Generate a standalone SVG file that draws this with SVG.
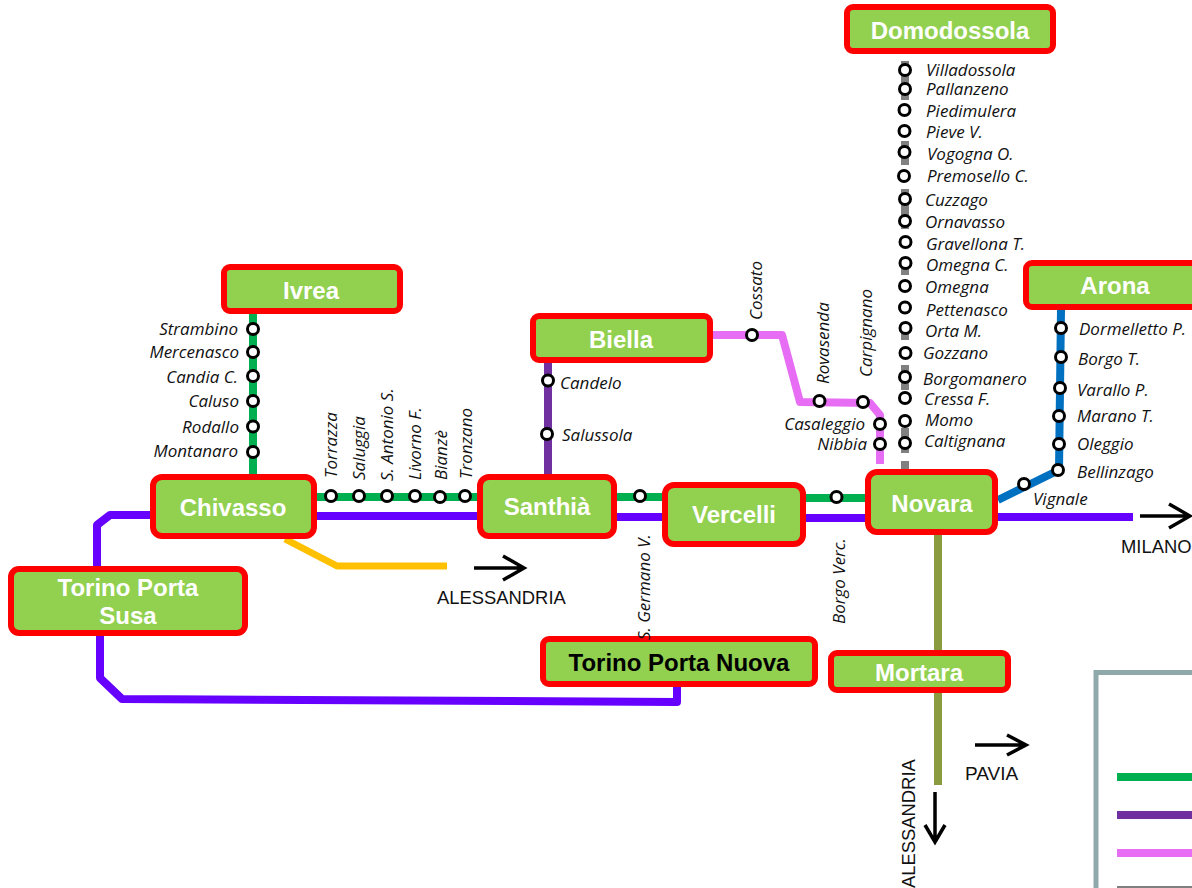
<svg xmlns="http://www.w3.org/2000/svg" width="1192" height="888" viewBox="0 0 1192 888">
<style>
.line{fill:none;stroke-linejoin:round}
.g{stroke:#00B050;stroke-width:8}
.v{stroke:#6600FF;stroke-width:8}
.y{stroke:#FFC000;stroke-width:7}
.d{stroke:#7030A0;stroke-width:8}
.p{stroke:#E86DF5;stroke-width:8}
.b{stroke:#0070C0;stroke-width:8}
.o{stroke:#8A9A3F;stroke-width:8}
.k{stroke:#808080;stroke-width:8}
.a{fill:none;stroke:#000;stroke-width:3.5;stroke-linejoin:miter}
.box{fill:#92D050;stroke:#FF0000;stroke-width:6}
.n{font:bold 24px "Liberation Sans",Arial,sans-serif;fill:#fff;text-anchor:middle}
.s{font:italic 17px "Open Sans",sans-serif;fill:#111}
.e{text-anchor:end}
.t{font:18.4px "Liberation Sans",Arial,sans-serif;fill:#111}
.c{fill:#fff;stroke:#000;stroke-width:3}
</style>
<g id="connectors">
<path class="line g" d="M253 314V474M317 497H477M617 497H662M806 498H865"/>
<path class="line v" d="M150 515H110L97 525V566M317 516H477M617 517H662M806 518H865M998 517H1133"/>
<path class="line v" d="M100 636V678L122 699L677 702V687"/>
<path class="line y" d="M285 539L337 566H447"/>
<path class="line d" d="M548 363V474"/>
<path class="line p" d="M713 335H782L800 402L870 403L880 415V464"/>
<path class="line b" d="M1061 310L1059 470L998 500"/>
<path class="line o" d="M938 535V650M938 693V785"/>
<path class="line k" d="M905 61V100M905 141V165M905 189V229M905 257V275M905 322V340M905 365V390M905 428V453M905 461V469"/>
<path class="a" d="M474 568H524M503 556L524 568L503 580"/>
<path class="a" d="M1140 516H1190M1169 504L1190 516L1169 528"/>
<path class="a" d="M975 745H1026M1007 735L1026 745L1007 755"/>
<path class="a" d="M935 792V842M925 825L935 842L945 825"/>
</g>
<g id="legend">
<path fill="none" stroke="#8FA8AA" stroke-width="5" d="M1194 672.500H1096V890"/>
<path class="line g" d="M1117 777H1192"/>
<path class="line d" d="M1117 815H1192"/>
<path class="line p" d="M1117 853H1192"/>
<path class="line k" d="M1117 890H1192"/>
</g>
<g id="stops">
<circle class="c" cx="253" cy="329" r="5.500"/><circle class="c" cx="253" cy="352" r="5.500"/><circle class="c" cx="253" cy="376" r="5.500"/><circle class="c" cx="253" cy="401" r="5.500"/><circle class="c" cx="253" cy="426.500" r="5.500"/><circle class="c" cx="253" cy="452" r="5.500"/>
<circle class="c" cx="331" cy="496" r="5.500"/><circle class="c" cx="359" cy="496" r="5.500"/><circle class="c" cx="387" cy="496" r="5.500"/><circle class="c" cx="415" cy="496" r="5.500"/><circle class="c" cx="440" cy="497" r="5.500"/><circle class="c" cx="465" cy="496" r="5.500"/>
<circle class="c" cx="640" cy="496" r="5.500"/><circle class="c" cx="836.500" cy="497" r="5.500"/>
<circle class="c" cx="548" cy="380.500" r="5.500"/><circle class="c" cx="547" cy="434" r="5.500"/>
<circle class="c" cx="752" cy="335" r="5.500"/><circle class="c" cx="819.500" cy="401" r="5.500"/><circle class="c" cx="863" cy="402" r="5.500"/><circle class="c" cx="880" cy="424" r="5.500"/><circle class="c" cx="880" cy="444" r="5.500"/>
<circle class="c" cx="905" cy="70" r="5.500"/><circle class="c" cx="905" cy="89" r="5.500"/><circle class="c" cx="904.500" cy="110" r="5.500"/><circle class="c" cx="904.500" cy="131" r="5.500"/><circle class="c" cx="904.500" cy="152" r="5.500"/><circle class="c" cx="904" cy="176" r="5.500"/><circle class="c" cx="905" cy="199" r="5.500"/><circle class="c" cx="905" cy="221" r="5.500"/><circle class="c" cx="905.500" cy="242" r="5.500"/><circle class="c" cx="905.500" cy="263" r="5.500"/><circle class="c" cx="905" cy="286" r="5.500"/><circle class="c" cx="905" cy="307.500" r="5.500"/><circle class="c" cx="905.500" cy="328" r="5.500"/><circle class="c" cx="905.500" cy="353" r="5.500"/><circle class="c" cx="905" cy="377" r="5.500"/><circle class="c" cx="905" cy="398" r="5.500"/><circle class="c" cx="905" cy="421" r="5.500"/><circle class="c" cx="905" cy="443" r="5.500"/>
<circle class="c" cx="1061" cy="328" r="5.500"/><circle class="c" cx="1061" cy="357" r="5.500"/><circle class="c" cx="1060" cy="388" r="5.500"/><circle class="c" cx="1059" cy="416" r="5.500"/><circle class="c" cx="1059" cy="444" r="5.500"/><circle class="c" cx="1058" cy="470" r="5.500"/><circle class="c" cx="1024" cy="484" r="5.500"/>
</g>
<g id="node-ivrea"><rect class="box" x="224" y="267" width="176" height="44" rx="6"/><text class="n" x="311" y="299">Ivrea</text></g>
<g id="node-chivasso"><rect class="box" x="153" y="477" width="161" height="59" rx="9"/><text class="n" x="233" y="516">Chivasso</text></g>
<g id="node-santhia"><rect class="box" x="480" y="477" width="134" height="59" rx="9"/><text class="n" x="547" y="515">Santhià</text></g>
<g id="node-vercelli"><rect class="box" x="665" y="485" width="138" height="59" rx="9"/><text class="n" x="734" y="523">Vercelli</text></g>
<g id="node-novara"><rect class="box" x="868" y="472" width="127" height="60" rx="9"/><text class="n" x="932" y="512">Novara</text></g>
<g id="node-biella"><rect class="box" x="533" y="316" width="177" height="44" rx="6"/><text class="n" x="621" y="348">Biella</text></g>
<g id="node-domodossola"><rect class="box" x="847" y="7" width="206" height="44" rx="6"/><text class="n" x="950" y="39">Domodossola</text></g>
<g id="node-arona"><rect class="box" x="1026" y="263" width="178" height="44" rx="6"/><text class="n" x="1115" y="294">Arona</text></g>
<g id="node-mortara"><rect class="box" x="831" y="653" width="177" height="37" rx="6"/><text class="n" x="919" y="681">Mortara</text></g>
<g id="node-torino-susa"><rect class="box" x="11" y="569" width="234" height="64" rx="8"/><text class="n" x="128" y="596">Torino Porta</text><text class="n" x="128" y="624">Susa</text></g>
<g id="node-torino-nuova"><rect class="box" x="543" y="639" width="272" height="45" rx="6"/><text class="n" x="679" y="671" style="fill:#000">Torino Porta Nuova</text></g>
<g id="labels">
<text class="s e" x="238" y="335">Strambino</text><text class="s e" x="239" y="358">Mercenasco</text><text class="s e" x="238" y="383">Candia C.</text><text class="s e" x="239" y="407">Caluso</text><text class="s e" x="239" y="433">Rodallo</text><text class="s e" x="238" y="457">Montanaro</text>
<text class="s" transform="translate(337 478) rotate(-90)">Torrazza</text><text class="s" transform="translate(365 480) rotate(-90)">Saluggia</text><text class="s" transform="translate(393 481) rotate(-90)">S. Antonio S.</text><text class="s" transform="translate(421 480) rotate(-90)">Livorno F.</text><text class="s" transform="translate(447 480) rotate(-90)">Bianzè</text><text class="s" transform="translate(472 479) rotate(-90)">Tronzano</text>
<text class="s" x="560" y="389">Candelo</text><text class="s" x="562" y="441">Salussola</text>
<text class="s" transform="translate(762 320) rotate(-90)">Cossato</text><text class="s" transform="translate(829 384) rotate(-90)">Rovasenda</text><text class="s" transform="translate(872 377) rotate(-90)">Carpignano</text>
<text class="s e" x="865" y="430">Casaleggio</text><text class="s e" x="867" y="450">Nibbia</text>
<text class="s" transform="translate(650 640) rotate(-90)">S. Germano V.</text><text class="s" transform="translate(845 624) rotate(-90)">Borgo Verc.</text>
<text class="s" x="926" y="76">Villadossola</text><text class="s" x="926" y="95">Pallanzeno</text><text class="s" x="926" y="117">Piedimulera</text><text class="s" x="926" y="138">Pieve V.</text><text class="s" x="927" y="160">Vogogna O.</text><text class="s" x="927" y="182">Premosello C.</text><text class="s" x="925" y="206">Cuzzago</text><text class="s" x="925" y="228">Ornavasso</text><text class="s" x="926" y="250">Gravellona T.</text><text class="s" x="926" y="271">Omegna C.</text><text class="s" x="925" y="293">Omegna</text><text class="s" x="926" y="316">Pettenasco</text><text class="s" x="925" y="337">Orta M.</text><text class="s" x="923" y="359">Gozzano</text><text class="s" x="923" y="385">Borgomanero</text><text class="s" x="924" y="405">Cressa F.</text><text class="s" x="925" y="426">Momo</text><text class="s" x="924" y="447">Caltignana</text>
<text class="s" x="1079" y="335">Dormelletto P.</text><text class="s" x="1078" y="365">Borgo T.</text><text class="s" x="1077" y="396">Varallo P.</text><text class="s" x="1077" y="422">Marano T.</text><text class="s" x="1077" y="450">Oleggio</text><text class="s" x="1077" y="478">Bellinzago</text><text class="s" x="1033" y="505">Vignale</text>
<text class="t" x="437" y="604">ALESSANDRIA</text><text class="t" x="1121" y="553">MILANO</text><text class="t" x="965" y="780" style="font-size:19px">PAVIA</text><text class="t" transform="translate(915 888) rotate(-90)">ALESSANDRIA</text>
</g>
</svg>
